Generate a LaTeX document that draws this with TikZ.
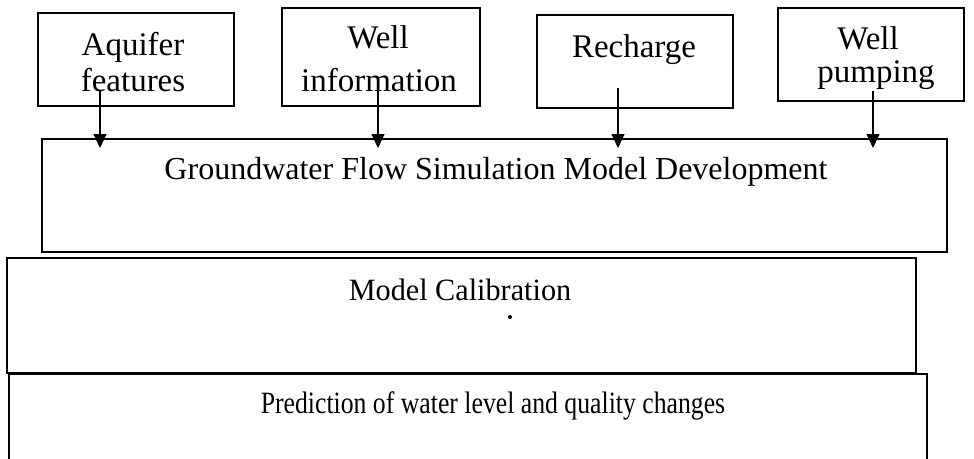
\documentclass[tikz,border=0pt]{standalone}
\usepackage{fontspec}
\setmainfont{Liberation Serif}
\newfontfamily\narrowfont[FakeStretch=0.83]{Liberation Serif}
\newfontfamily\calibfont[FakeStretch=0.975]{Liberation Serif}
\usetikzlibrary{arrows.meta}
\begin{document}
\begin{tikzpicture}[x=1pt,y=-1pt,
  box/.style={draw, line width=2pt, inner sep=0pt},
  toptext/.style={font=\fontsize{33}{36}\selectfont, anchor=base, inner sep=0pt},
  arr/.style={line width=1.4pt, -{Triangle[width=13pt,length=14pt]}}]
\useasboundingbox (0,0) rectangle (974,458);
\fill[white] (0,0) rectangle (974,458);
\clip (0,0) rectangle (974,458);

% input boxes
\node[box, minimum width=196pt, minimum height=93pt] (aq) at (136,59.5) {};
\node[box, minimum width=198pt, minimum height=98pt] (wi) at (381,57) {};
\node[box, minimum width=196pt, minimum height=93pt] (rc) at (635,61.5) {};
\node[box, minimum width=186pt, minimum height=93pt] (wp) at (871,54.5) {};

\node[toptext] (aq1) at (133,55) {Aquifer};
\node[toptext] (aq2) at (133,91) {features};
\node[toptext] (wi1) at (378,48) {Well};
\node[toptext] (wi2) at (379,91) {information};
\node[toptext] (rc1) at (634,57) {Recharge};
\node[toptext] (wp1) at (868,49) {Well};
\node[toptext] (wp2) at (876,82) {pumping};

% stacked stages
\node[box, minimum width=905pt, minimum height=113pt] (main) at (494,195.5) {};
\node[box, minimum width=909pt, minimum height=115pt] (calib) at (461.5,315.5) {};
\node[box, minimum width=918pt, minimum height=120pt] (pred) at (468,434) {};

\node[font=\fontsize{32}{34}\selectfont, anchor=base, inner sep=0pt] (maint) at (496,179) {Groundwater Flow Simulation Model Development};
\node[font=\calibfont\fontsize{31}{33}\selectfont, anchor=base, inner sep=0pt] (calibt) at (460,300) {Model Calibration};
\node[font=\narrowfont\fontsize{31}{33}\selectfont, anchor=base, inner sep=0pt] (predt) at (493,413) {Prediction of water level and quality changes};
\fill (510,317) circle (2);

% inputs feeding the model
\coordinate (aqs) at ([xshift=-36pt,yshift=17pt]aq.south);
\coordinate (wis) at ([xshift=-3pt,yshift=18pt]wi.south);
\coordinate (rcs) at ([xshift=-17pt,yshift=21pt]rc.south);
\coordinate (wps) at ([xshift=2pt,yshift=11pt]wp.south);
\coordinate (aqe) at (aqs |- main.north);
\coordinate (wie) at (wis |- main.north);
\coordinate (rce) at (rcs |- main.north);
\coordinate (wpe) at (wps |- main.north);
\draw[arr] (aqs) -- ([yshift=-10pt]aqe);
\draw[arr] (wis) -- ([yshift=-10pt]wie);
\draw[arr] (rcs) -- ([yshift=-10pt]rce);
\draw[arr] (wps) -- ([yshift=-10pt]wpe);
\end{tikzpicture}
\end{document}
